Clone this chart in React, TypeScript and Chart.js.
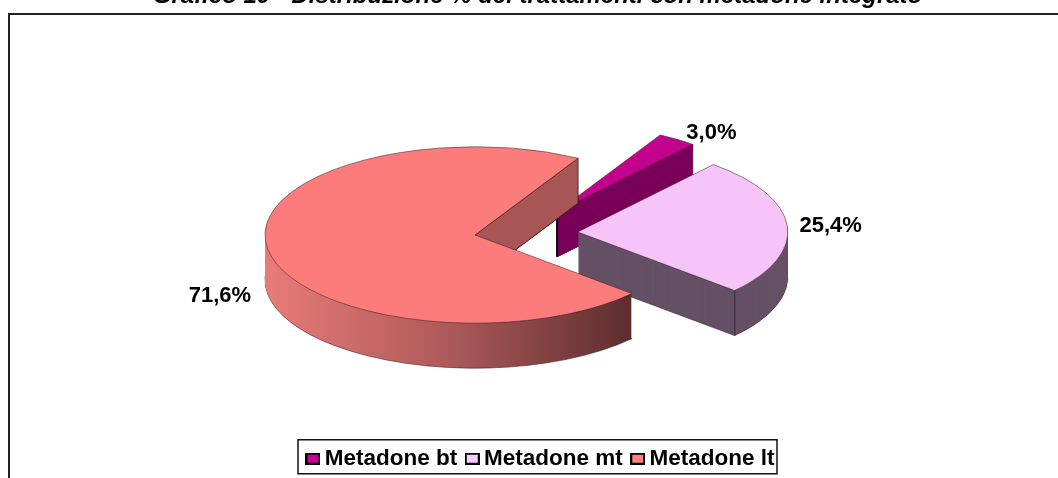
import React, { useEffect, useRef } from "react";
import { Chart, registerables } from "chart.js";

Chart.register(...registerables);

const titleText = "Grafico 10 - Distribuzione % dei trattamenti con metadone integrato";
const categories = ["Metadone bt", "Metadone mt", "Metadone lt"];
const shares = [3.0, 25.4, 71.6];
const topColors = ["#C4008F", "#F6C4F8", "#FB7C7A"];
const legendColors = ["#CC0099", "#FFCCFF", "#FF8080"];
const wallColors = ["#780058", "#655065", "#A85555"];

const FONT = "'Liberation Sans', Arial, sans-serif";
const TILT = 0.42;
const DEPTH = 45;
const PIE_CENTER = { x: 475, y: 235 };
const RADIUS = 210;
const LEGEND_SHIFT = 6;
// explosion of each slice, as a distance (in the untilted plane) and a compass bearing
const explodeDistance = [99, 103, 0];
const explodeBearing = [56, 86, 0];
// label nudges from the outer rim point at the slice's mid angle
const labelNudge = [
  [34.5, -6],
  [43.5, 0],
  [48, 46],
];

function swatch(color: string) {
  const c = document.createElement("canvas");
  c.width = 15;
  c.height = 12;
  const g = c.getContext("2d")!;
  g.fillStyle = "#000";
  g.fillRect(0, 0, 15, 12);
  g.fillStyle = color;
  g.fillRect(2, 2, 11, 8);
  return c;
}

const shift = (i: number) => {
  const b = (explodeBearing[i] * Math.PI) / 180;
  return {
    x: PIE_CENTER.x + explodeDistance[i] * Math.sin(b),
    y: PIE_CENTER.y - explodeDistance[i] * Math.cos(b) * TILT,
  };
};

const pie3d = {
  id: "pie3d",
  beforeDraw(chart: any) {
    const { ctx, legend } = chart;
    ctx.save();
    ctx.strokeStyle = "#222";
    ctx.lineWidth = 2;
    ctx.strokeRect(9, 14, 2000, 2000);
    ctx.restore();
    // the reference's legend row sits slightly right of the title's centre
    legend.left += LEGEND_SHIFT;
    legend.right += LEGEND_SHIFT;
  },
  beforeDatasetsDraw(chart: any) {
    const { ctx } = chart;
    const arcs = chart.getDatasetMeta(0).data;
    arcs.forEach((arc: any, i: number) => {
      const o = shift(i);
      const orig = arc.options;
      const paint = (dy: number, fill: any, borderWidth: number, borderColor: string) => {
        ctx.save();
        ctx.translate(o.x, o.y + dy);
        ctx.scale(1, TILT);
        ctx.translate(-arc.x, -arc.y);
        arc.options = Object.assign(Object.create(orig), {
          backgroundColor: fill,
          borderWidth,
          borderColor,
        });
        arc.draw(ctx);
        arc.options = orig;
        ctx.restore();
      };
      let sideFill: any = wallColors[i];
      if (i === 2) {
        const g = ctx.createLinearGradient(arc.x - RADIUS, 0, arc.x + RADIUS * 0.73, 0);
        g.addColorStop(0, "#E87C78");
        g.addColorStop(0.5, "#AE5A5A");
        g.addColorStop(1, "#5E2E2E");
        sideFill = g;
      }
      paint(DEPTH, sideFill, 1, "rgba(50,20,30,0.8)");
      for (let d = DEPTH - 1; d > 0; d--) paint(d, sideFill, 0, "transparent");

      const ex = o.x + arc.outerRadius * Math.cos(arc.endAngle);
      const ey = o.y + arc.outerRadius * Math.sin(arc.endAngle) * TILT;

      // visible cut wall, drawn from the arc's own end angle
      if (i === 0 || i === 2) {
        ctx.save();
        ctx.fillStyle = wallColors[i];
        ctx.strokeStyle = i === 0 ? wallColors[i] : "rgba(50,20,30,0.8)";
        ctx.lineWidth = 1;
        ctx.beginPath();
        ctx.moveTo(o.x, o.y);
        ctx.lineTo(ex, ey);
        ctx.lineTo(ex, ey + DEPTH);
        ctx.lineTo(o.x, o.y + DEPTH);
        ctx.closePath();
        ctx.fill();
        ctx.stroke();
        ctx.restore();
      }
      // vertical crease lines: the small slice's left edge, the middle slice's front corner
      if (i === 0) {
        ctx.save();
        ctx.strokeStyle = "#000";
        ctx.lineWidth = 2;
        ctx.beginPath();
        ctx.moveTo(o.x, o.y);
        ctx.lineTo(o.x, o.y + DEPTH);
        ctx.stroke();
        ctx.restore();
      }
      if (i === 1) {
        ctx.save();
        ctx.strokeStyle = "#46344A";
        ctx.lineWidth = 1.5;
        ctx.beginPath();
        ctx.moveTo(ex, ey);
        ctx.lineTo(ex, ey + DEPTH);
        ctx.stroke();
        ctx.restore();
      }
      paint(0, topColors[i], 1, "rgba(60,30,40,0.75)");
    });
    return false;
  },
  afterDraw(chart: any) {
    const { ctx, legend } = chart;
    const arcs = chart.getDatasetMeta(0).data;
    ctx.save();
    ctx.fillStyle = "#000";
    ctx.font = `bold 22px ${FONT}`;
    ctx.textAlign = "center";
    ctx.textBaseline = "middle";
    arcs.forEach((arc: any, i: number) => {
      const o = shift(i);
      const mid = (arc.startAngle + arc.endAngle) / 2;
      const x = o.x + arc.outerRadius * Math.cos(mid) + labelNudge[i][0] * Math.sign(Math.cos(mid));
      const y = o.y + arc.outerRadius * Math.sin(mid) * TILT + labelNudge[i][1];
      ctx.fillText(shares[i].toFixed(1).replace(".", ",") + "%", x, y);
    });
    ctx.restore();

    // legend frame, centred on the legend's pre-shift box
    const cx = (legend.left + legend.right) / 2 - LEGEND_SHIFT;
    const cy = legend.legendHitBoxes[0].top + legend.legendHitBoxes[0].height / 2;
    ctx.save();
    ctx.strokeStyle = "#111";
    ctx.lineWidth = 1.5;
    ctx.strokeRect(cx - 239.5, cy - 19, 479, 34);
    ctx.restore();
  },
};

export default function App() {
  const ref = useRef<HTMLCanvasElement>(null);
  useEffect(() => {
    const chart = new Chart(ref.current!, {
      type: "pie",
      data: {
        labels: categories,
        datasets: [
          {
            data: shares,
            backgroundColor: topColors,
            radius: RADIUS,
          } as any,
        ],
      },
      plugins: [pie3d],
      options: {
        animation: false,
        responsive: false,
        rotation: 29.4,
        layout: { padding: { left: 17, right: 0, top: 0, bottom: -2 } },
        plugins: {
          tooltip: { enabled: false },
          title: {
            display: true,
            text: titleText,
            color: "#000",
            font: { family: FONT, size: 24, weight: "bold", style: "italic" },
            padding: { top: -18, bottom: 0 },
          },
          legend: {
            display: true,
            position: "bottom",
            labels: {
              usePointStyle: true,
              boxWidth: 1,
              boxHeight: 11,
              padding: 14.5,
              color: "#000",
              font: { family: FONT, size: 22.5, weight: "bold" },
              generateLabels: () =>
                categories.map((text, i) => ({
                  text,
                  fillStyle: legendColors[i],
                  strokeStyle: "#000",
                  lineWidth: 1,
                  pointStyle: swatch(legendColors[i]),
                  hidden: false,
                  index: i,
                })),
            },
          },
        },
      },
    } as any);
    return () => chart.destroy();
  }, []);
  return (
    <div style={{ position: "absolute", left: 0, top: 0 }}>
      <canvas ref={ref} width={1058} height={478} style={{ display: "block" }} />
    </div>
  );
}
